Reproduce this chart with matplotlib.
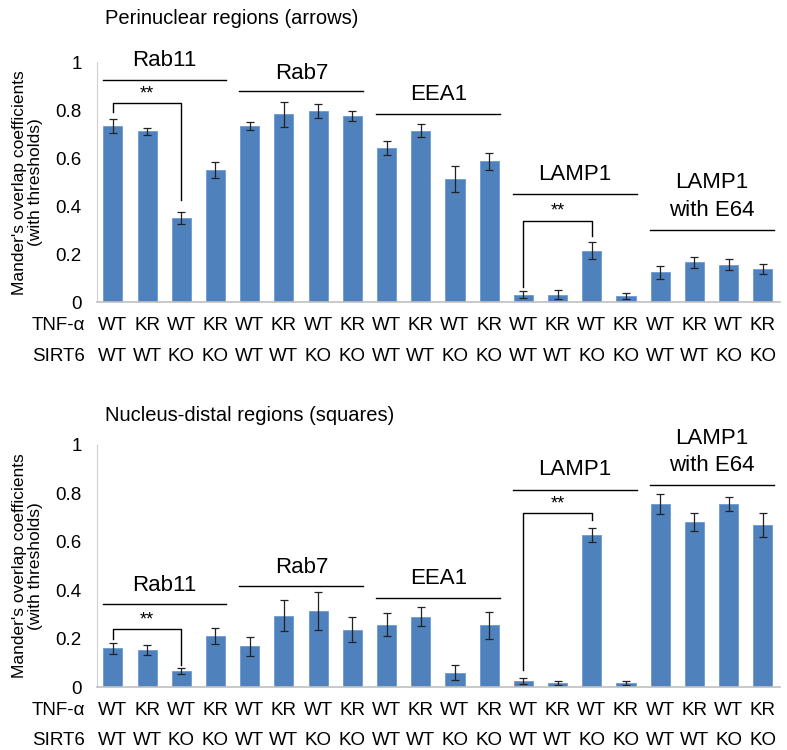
import numpy as np
import matplotlib
matplotlib.use('Agg')
import matplotlib.pyplot as plt

plt.rcParams['font.family'] = ['Liberation Sans', 'DejaVu Sans']

# tick labels under the bars
tnf = ['WT', 'KR', 'WT', 'KR'] * 5
sirt6 = ['WT', 'WT', 'KO', 'KO'] * 5
groups = ['Rab11', 'Rab7', 'EEA1', 'LAMP1', 'LAMP1\nwith E64']

# perinuclear regions (arrows)
peri_vals = [0.735, 0.712, 0.351, 0.55,
             0.735, 0.783, 0.796, 0.775,
             0.643, 0.714, 0.514, 0.588,
             0.032, 0.032, 0.215, 0.025,
             0.124, 0.167, 0.156, 0.138]
peri_err = [0.028, 0.015, 0.027, 0.033,
            0.018, 0.052, 0.030, 0.020,
            0.028, 0.027, 0.053, 0.035,
            0.014, 0.018, 0.035, 0.012,
            0.026, 0.023, 0.023, 0.021]
# group line height and label baselines (one per text line)
peri_line = [0.928, 0.879, 0.785, 0.45, 0.30]
peri_lab = [[0.983], [0.932], [0.842], [0.511], [0.476, 0.36]]
# brackets: (bar a, bar b, top, leg a end, leg b end)
peri_brackets = [(0, 2, 0.83, 0.794, 0.424), (12, 14, 0.339, 0.065, 0.278)]

# nucleus-distal regions (squares)
dist_vals = [0.159, 0.152, 0.066, 0.21,
             0.168, 0.295, 0.314, 0.237,
             0.257, 0.29, 0.059, 0.254,
             0.026, 0.018, 0.628, 0.018,
             0.756, 0.681, 0.756, 0.669]
dist_err = [0.023, 0.020, 0.012, 0.032,
            0.039, 0.063, 0.079, 0.051,
            0.047, 0.039, 0.032, 0.054,
            0.012, 0.008, 0.029, 0.008,
            0.041, 0.036, 0.030, 0.048]
dist_line = [0.341, 0.415, 0.367, 0.815, 0.832]
dist_lab = [[0.398], [0.472], [0.426], [0.877], [1.004, 0.891]]
dist_brackets = [(0, 2, 0.239, 0.2, 0.092), (12, 14, 0.717, 0.072, 0.69)]

blue = '#4F81BD'
x = np.arange(len(tnf))

fig = plt.figure(figsize=(7.87, 7.5), dpi=100)
ax1 = fig.add_axes([0.123, 0.597, 0.868, 0.32])
ax2 = fig.add_axes([0.123, 0.084, 0.868, 0.323])


def draw_panel(ax, vals, err, line_y, lab_y, brackets, title, title_y, row_y):
    ax.bar(x, vals, width=0.56, color=blue, edgecolor='#6b9ad3', linewidth=0.6)
    ax.errorbar(x, vals, yerr=err, fmt='none', ecolor='#222222',
                elinewidth=0.9, capsize=3, capthick=0.9)
    ax.set_xlim(-0.47, 19.5)
    ax.set_ylim(0, 1)
    ax.set_yticks([0, 0.2, 0.4, 0.6, 0.8, 1])
    ax.set_yticklabels(['0', '0.2', '0.4', '0.6', '0.8', '1'], fontsize=13.5)
    ax.tick_params(axis='y', length=0, pad=11)
    ax.set_xticks([])
    for s in ['top', 'right']:
        ax.spines[s].set_visible(False)
    ax.spines['left'].set_color('#d0d0d0')
    ax.spines['bottom'].set_color('#c0c0c0')
    ax.spines['bottom'].set_linewidth(1.2)

    for g in range(5):
        a, b = 4 * g - 0.3, 4 * g + 3 + 0.32
        ax.plot([a, b], [line_y[g], line_y[g]], color='black', lw=1, clip_on=False)
        for txt, yb in zip(groups[g].split('\n'), lab_y[g]):
            ax.text((a + b) / 2, yb, txt, ha='center', va='baseline',
                    fontsize=16, clip_on=False)

    for i0, i1, top, la, lb in brackets:
        ax.plot([i0, i0, i1, i1], [la, top, top, lb], color='black', lw=1)
        ax.text((i0 + i1) / 2, top + 0.004, '**', ha='center', va='bottom', fontsize=13)

    trans = ax.get_xaxis_transform()
    for i in x:
        ax.text(i, row_y[0], tnf[i], ha='center', va='baseline', fontsize=13.5, transform=trans)
        ax.text(i, row_y[1], sirt6[i], ha='center', va='baseline', fontsize=13.5, transform=trans)
    ax.text(-0.82, row_y[0], 'TNF-α', ha='right', va='baseline', fontsize=13.5, transform=trans)
    ax.text(-0.82, row_y[1], 'SIRT6', ha='right', va='baseline', fontsize=13.5, transform=trans)

    ax.set_ylabel("Mander's overlap coefficients\n(with thresholds)", fontsize=12.5,
                  linespacing=1.1)
    ax.yaxis.set_label_coords(-0.079, 0.5)
    ax.text(0.012, title_y, title, transform=ax.transAxes, fontsize=14.5,
            ha='left', va='baseline')


draw_panel(ax1, peri_vals, peri_err, peri_line, peri_lab, peri_brackets,
           'Perinuclear regions (arrows)', 1.158, (-0.1167, -0.246))
draw_panel(ax2, dist_vals, dist_err, dist_line, dist_lab, dist_brackets,
           'Nucleus-distal regions (squares)', 1.10, (-0.116, -0.241))

fig.savefig('out.png', dpi=100)
